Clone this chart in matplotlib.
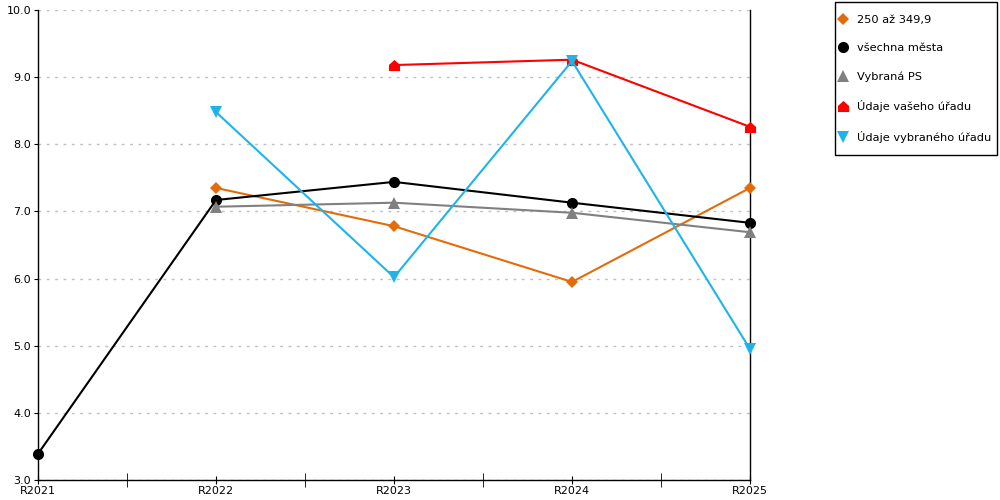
import matplotlib
matplotlib.use("Agg")
import matplotlib.pyplot as plt
from matplotlib.path import Path
from matplotlib.lines import Line2D
from matplotlib.patches import Rectangle
import numpy as np

categories = ["R2021", "R2022", "R2023", "R2024", "R2025"]
s_orange = [np.nan, 7.35, 6.78, 5.95, 7.35]
s_black = [3.39, 7.17, 7.44, 7.13, 6.83]
s_gray = [np.nan, 7.07, 7.13, 6.98, 6.69]
s_red = [np.nan, np.nan, 9.18, 9.26, 8.26]
s_blue = [np.nan, 8.48, 6.02, 9.24, 4.95]
labels = ["250 až 349,9", "všechna města", "Vybraná PS", "Údaje vašeho úřadu", "Údaje vybraného úřadu"]
yticks = [3.0, 4.0, 5.0, 6.0, 7.0, 8.0, 9.0, 10.0]

house = Path([(-1, -1), (1, -1), (1, 0.1), (0, 1), (-1, 0.1), (-1, -1)],
             [Path.MOVETO, Path.LINETO, Path.LINETO, Path.LINETO, Path.LINETO, Path.CLOSEPOLY])

colors = ["#E36C0A", "#000000", "#808080", "#FF0000", "#1EB4EA"]
markers = ["D", "o", "^", house, "v"]
msizes = [6, 8, 8, 8, 8]
series = [s_orange, s_black, s_gray, s_red, s_blue]

plt.rcParams['font.family'] = ['DejaVu Sans']
fig = plt.figure(figsize=(10, 5), dpi=100)
ax = fig.add_axes([0.038, 0.04, 0.712, 0.94])
x = np.arange(len(categories))
for s, c, m, ms in zip(series, colors, markers, msizes):
    ax.plot(x, s, color=c, lw=1.5, marker=m, markersize=ms, markeredgewidth=0,
            clip_on=False, zorder=3)

ax.set_xlim(0, 4)
ax.set_ylim(3, 10)
ax.set_yticks(yticks)
ax.set_yticklabels([f"{v:.1f}" for v in yticks], fontsize=8)
ax.set_xticks(x)
ax.set_xticklabels(categories, fontsize=8)
ax.set_xticks(np.arange(0.5, 4, 1), minor=True)
ax.tick_params(axis='x', which='major', direction='inout', length=6, pad=1)
ax.tick_params(axis='x', which='minor', direction='inout', length=10)
ax.tick_params(axis='y', direction='out', length=3, pad=2)
ax.grid(axis='y', color='#C0C0C0', linestyle=(0, (2, 4)), lw=1)
ax.spines['top'].set_visible(False)
for sp in ['left', 'right', 'bottom']:
    ax.spines[sp].set_color('black')
    ax.spines[sp].set_linewidth(1)

handles = [Line2D([], [], color=c, marker=m, linestyle='none', markersize=ms, markeredgewidth=0)
           for c, m, ms in zip(colors, markers, msizes)]
leg = fig.legend(handles, labels, loc='upper left', bbox_to_anchor=(0.8385, 0.9696),
                 fontsize=8.2, frameon=False,
                 labelspacing=1.6, handlelength=0.8, handletextpad=0.85,
                 borderpad=0, borderaxespad=0)
fig.patches.append(Rectangle((0.835, 1 - 155 / 500), (997 - 835) / 1000, 153 / 500,
                             transform=fig.transFigure, fill=False, ec='black', lw=1))

fig.savefig("out.png", dpi=100)
